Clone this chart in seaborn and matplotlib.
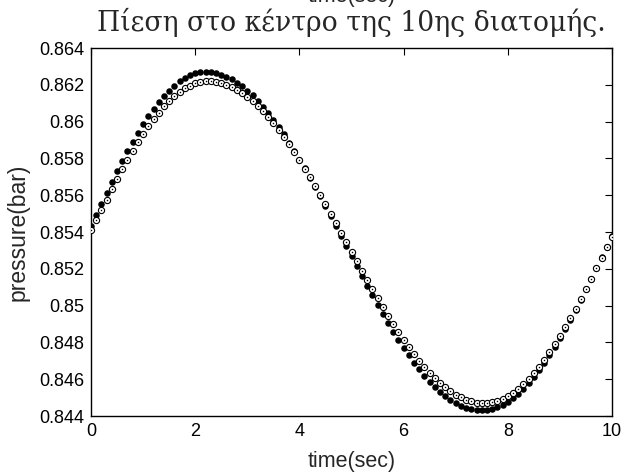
import matplotlib
matplotlib.use("Agg")
import matplotlib.pyplot as plt
import seaborn as sns
import pandas as pd
import numpy as np
from matplotlib.ticker import FuncFormatter, FixedLocator

# ---- data ----
time_sec = [round(0.1 * i, 1) for i in range(101)]

pressure_filled = [
    0.85431, 0.85492, 0.85553, 0.85613, 0.85672, 0.85729, 0.85785, 0.85838, 0.85890, 0.85939,
    0.85985, 0.86029, 0.86069, 0.86106, 0.86139, 0.86169, 0.86196, 0.86218, 0.86237, 0.86251,
    0.86262, 0.86268, 0.86270, 0.86268, 0.86264, 0.86255, 0.86244, 0.86230, 0.86212, 0.86192,
    0.86169, 0.86142, 0.86113, 0.86081, 0.86047, 0.86010, 0.85971, 0.85930, 0.85886, 0.85841,
    0.85794, 0.85746, 0.85696, 0.85645, 0.85593, 0.85540, 0.85486, 0.85432, 0.85377, 0.85323,
    0.85268, 0.85214, 0.85160, 0.85107, 0.85055, 0.85004, 0.84954, 0.84906, 0.84859, 0.84814,
    0.84770, 0.84729, 0.84690, 0.84653, 0.84619, 0.84587, 0.84558, 0.84531, 0.84508, 0.84488,
    0.84470, 0.84456, 0.84445, 0.84436, 0.84432, 0.84430, 0.84432, 0.84438, 0.84447, 0.84460,
    0.84477, 0.84497, 0.84521, 0.84548, 0.84579, 0.84613, 0.84649, 0.84689, 0.84731, 0.84776,
    0.84824, 0.84873, 0.84924, 0.84978, 0.85032, 0.85088, 0.85145, 0.85203, 0.85262, 0.85320,
    0.85380,
]

pressure_open = [
    0.85410, 0.85465, 0.85519, 0.85576, 0.85632, 0.85687, 0.85740, 0.85791, 0.85840, 0.85887,
    0.85932, 0.85974, 0.86013, 0.86049, 0.86083, 0.86112, 0.86139, 0.86162, 0.86181, 0.86196,
    0.86208, 0.86216, 0.86219, 0.86220, 0.86217, 0.86210, 0.86201, 0.86189, 0.86174, 0.86156,
    0.86135, 0.86111, 0.86085, 0.86056, 0.86024, 0.85991, 0.85955, 0.85916, 0.85876, 0.85834,
    0.85790, 0.85745, 0.85698, 0.85650, 0.85601, 0.85550, 0.85500, 0.85448, 0.85397, 0.85345,
    0.85293, 0.85242, 0.85190, 0.85140, 0.85089, 0.85040, 0.84992, 0.84945, 0.84900, 0.84856,
    0.84814, 0.84774, 0.84735, 0.84699, 0.84666, 0.84634, 0.84605, 0.84579, 0.84555, 0.84534,
    0.84516, 0.84501, 0.84489, 0.84480, 0.84473, 0.84470, 0.84470, 0.84474, 0.84482, 0.84493,
    0.84508, 0.84526, 0.84548, 0.84573, 0.84602, 0.84634, 0.84669, 0.84706, 0.84746, 0.84790,
    0.84835, 0.84883, 0.84933, 0.84984, 0.85037, 0.85091, 0.85146, 0.85202, 0.85259, 0.85316,
    0.85374,
]

x_ticks = [0, 2, 4, 6, 8, 10]
y_ticks = [0.844, 0.846, 0.848, 0.85, 0.852, 0.854, 0.856, 0.858, 0.86, 0.862, 0.864]

title_text = "Πίεση στο κέντρο της 10ης διατομής."
x_label = "time(sec)"
y_label = "pressure(bar)"

# ---- plotting ----
sns.set_style("white")
plt.rcParams["font.family"] = ["Liberation Sans", "DejaVu Sans"]

fig = plt.figure(figsize=(6.23, 4.73), dpi=100)
ax = fig.add_axes([91 / 623, 1 - 416 / 473, (612 - 91) / 623, (416 - 48) / 473])

df_f = pd.DataFrame({"t": time_sec, "p": pressure_filled})
df_o = pd.DataFrame({"t": time_sec, "p": pressure_open})

sns.scatterplot(data=df_f, x="t", y="p", ax=ax, color="black", s=22,
                linewidth=0, zorder=3, legend=False)
sns.scatterplot(data=df_o, x="t", y="p", ax=ax, facecolor="white", edgecolor="black",
                s=20, linewidth=0.8, zorder=4, legend=False)
sns.scatterplot(data=df_o, x="t", y="p", ax=ax, color="black", s=1.2,
                linewidth=0, zorder=5, legend=False)

ax.set_xlim(0, 10)
ax.set_ylim(0.844, 0.864)
ax.xaxis.set_major_locator(FixedLocator(x_ticks))
ax.yaxis.set_major_locator(FixedLocator(y_ticks))
ax.yaxis.set_major_formatter(FuncFormatter(lambda v, p: "%g" % round(v, 3)))
ax.xaxis.set_major_formatter(FuncFormatter(lambda v, p: "%g" % v))

ax.tick_params(direction="in", top=True, right=True, length=5, width=0.8,
               labelsize=13, colors="black", pad=5)
for s in ax.spines.values():
    s.set_visible(True)
    s.set_color("black")
    s.set_linewidth(1.0)

ax.set_xlabel(x_label, fontsize=15.5, labelpad=8)
ax.set_ylabel(y_label, fontsize=16.5, labelpad=7)
ax.set_title(title_text, family=["DejaVu Serif"], fontsize=19.2, pad=12)

# partially clipped label at the very top of the figure
fig.text((91 + 612) / 2 / 623, 1 - 2 / 473, x_label, ha="center", va="baseline", fontsize=15.5)

fig.savefig("out.png", dpi=100)
